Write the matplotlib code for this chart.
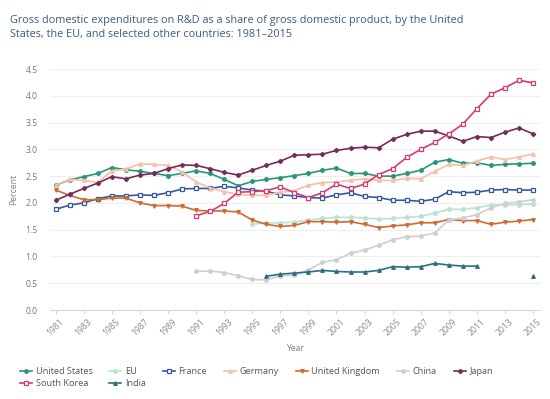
import numpy as np
from matplotlib import pyplot as plt

plt.rcParams['font.family'] = ['Open Sans', 'DejaVu Sans']

years = list(range(1981, 2016))

us = [2.33, 2.43, 2.49, 2.55, 2.66, 2.62, 2.59, 2.55, 2.51, 2.55, 2.60, 2.55, 2.44, 2.32, 2.40, 2.44,
      2.47, 2.51, 2.55, 2.61, 2.65, 2.55, 2.55, 2.50, 2.50, 2.55, 2.61, 2.76, 2.81, 2.74, 2.75, 2.70,
      2.72, 2.73, 2.74]
eu = [None] * 14 + [1.61, 1.62, 1.63, 1.64, 1.68, 1.71, 1.73, 1.73, 1.72, 1.70, 1.71, 1.73, 1.75,
                    1.81, 1.88, 1.88, 1.91, 1.96, 1.96, 1.97, 1.98]
france = [1.88, 1.96, 2.00, 2.08, 2.13, 2.13, 2.15, 2.14, 2.19, 2.26, 2.27, 2.27, 2.31, 2.28, 2.24, 2.22,
          2.15, 2.13, 2.10, 2.09, 2.15, 2.19, 2.12, 2.10, 2.05, 2.05, 2.03, 2.07, 2.21, 2.19, 2.20, 2.24,
          2.25, 2.24, 2.24]
germany = [2.33, 2.44, 2.42, 2.38, 2.60, 2.63, 2.73, 2.72, 2.70, 2.58, 2.39, 2.28, 2.21, 2.16, 2.14, 2.14,
           2.20, 2.23, 2.33, 2.38, 2.39, 2.42, 2.45, 2.42, 2.42, 2.46, 2.45, 2.59, 2.72, 2.70, 2.78, 2.86,
           2.81, 2.86, 2.91]
uk = [2.24, 2.14, 2.06, 2.06, 2.09, 2.09, 2.00, 1.95, 1.95, 1.94, 1.86, 1.85, 1.85, 1.83, 1.68, 1.60,
      1.56, 1.58, 1.65, 1.65, 1.64, 1.65, 1.60, 1.54, 1.57, 1.59, 1.63, 1.63, 1.69, 1.67, 1.67, 1.60,
      1.64, 1.66, 1.69]
china = [None] * 10 + [0.72, 0.73, 0.70, 0.64, 0.57, 0.56, 0.64, 0.65, 0.75, 0.89, 0.94, 1.06, 1.12,
                       1.21, 1.31, 1.37, 1.38, 1.44, 1.68, 1.72, 1.78, 1.91, 1.99, 2.02, 2.06]
japan = [2.05, 2.16, 2.27, 2.37, 2.49, 2.45, 2.52, 2.55, 2.64, 2.71, 2.70, 2.64, 2.57, 2.52, 2.61, 2.70,
         2.78, 2.89, 2.90, 2.91, 2.98, 3.02, 3.04, 3.03, 3.19, 3.28, 3.34, 3.34, 3.25, 3.15, 3.24, 3.22,
         3.32, 3.40, 3.29]
korea = [None] * 10 + [1.76, 1.84, 1.99, 2.20, 2.21, 2.23, 2.30, 2.19, 2.10, 2.19, 2.35, 2.27, 2.35,
                       2.53, 2.64, 2.85, 3.00, 3.13, 3.29, 3.47, 3.76, 4.03, 4.15, 4.29, 4.24]
india = [None] * 15 + [0.63, 0.67, 0.69, 0.71, 0.74, 0.72, 0.71, 0.71, 0.74, 0.81, 0.80, 0.81, 0.87,
                       0.84, 0.82, 0.82, None, None, None, 0.63]

series = [
    ("United States", us, "#2a9577", "o", "#2a9577"),
    ("EU", eu, "#b8e3d3", "o", "#b8e3d3"),
    ("France", france, "#33599b", "s", "white"),
    ("Germany", germany, "#f6bfa6", "^", "#f6bfa6"),
    ("United Kingdom", uk, "#cf6a30", "v", "#cf6a30"),
    ("China", china, "#cfcfcf", "o", "#cfcfcf"),
    ("Japan", japan, "#752c58", "D", "#752c58"),
    ("South Korea", korea, "#d43a73", "s", "white"),
    ("India", india, "#2b6f86", "^", "#2b6f86"),
]

fig = plt.figure(figsize=(5.5, 3.99), dpi=100)
ax = fig.add_axes([0.091, 0.223, 0.891, 0.604])

x = np.array(years)
lines = {}
for name, vals, color, marker, face in series:
    y = np.array([np.nan if v is None else v for v in vals])
    ms = 2.2 if marker == "D" else 2.6
    ln, = ax.plot(x, y, color=color, lw=1.2, marker=marker, ms=ms, mfc=face, mec=color,
                  mew=0.9, label=name)
    lines[name] = ln

ax.set_xlim(1980.6, 2015.5)
ax.set_ylim(0, 4.5)
yt = np.arange(0, 4.6, 0.5)
ax.set_yticks(yt)
ax.set_yticklabels([f"{v:.1f}" for v in yt])
ax.set_xticks(range(1981, 2016, 2))
ax.set_xticklabels([str(y) for y in range(1981, 2016, 2)], rotation=45)
ax.tick_params(axis='x', labelsize=6.2, colors='#8a8a8a', length=3, color='#d8d8d8', pad=2)
ax.tick_params(axis='y', labelsize=6.2, colors='#777777', length=0, pad=9)
ax.grid(axis='y', color='#eeeeee', lw=0.8)
ax.set_axisbelow(True)
for s in ['top', 'right', 'left']:
    ax.spines[s].set_visible(False)
ax.spines['bottom'].set_color('#d8d8d8')
ax.set_xlabel("Year", fontsize=6.2, color='#808080', labelpad=5)
ax.set_ylabel("Percent", fontsize=6.2, color='#808080', labelpad=5)

fig.text(0.018, 0.963, "Gross domestic expenditures on R&D as a share of gross domestic product, by the United\n"
         "States, the EU, and selected other countries: 1981\u20132015",
         fontsize=7.8, color='#3a5c82', va='top', ha='left', linespacing=1.35)

# legend fills column by column, so order it to read row by row
order = ["United States", "South Korea", "EU", "India", "France", "Germany",
         "United Kingdom", "China", "Japan"]
leg = fig.legend([lines[n] for n in order], order, loc='upper left',
                 bbox_to_anchor=(0.028, 0.092), ncol=7, frameon=False, fontsize=6.6,
                 handlelength=1.3, handletextpad=0.4, columnspacing=1.85, borderpad=0,
                 labelspacing=0.35)
for t in leg.get_texts():
    t.set_color('#555555')

fig.savefig("out.png", dpi=100)
